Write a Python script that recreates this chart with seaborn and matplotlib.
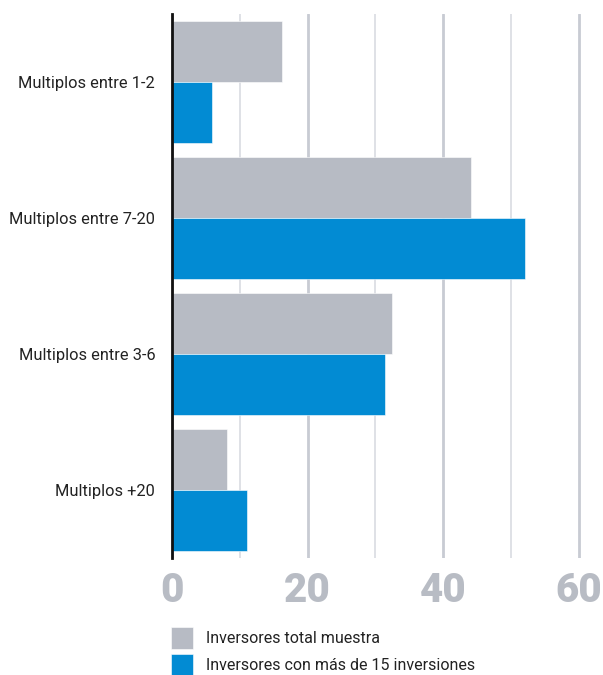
import matplotlib
matplotlib.use("Agg")
import matplotlib.pyplot as plt
from matplotlib.ticker import MultipleLocator
import seaborn as sns
import pandas as pd

categories = ["Multiplos entre 1-2", "Multiplos entre 7-20", "Multiplos entre 3-6", "Multiplos +20"]
series_names = ["Inversores total muestra", "Inversores con más de 15 inversiones"]
total_muestra = [16.2, 44.1, 32.5, 8.1]
mas_de_15 = [5.9, 52.1, 31.4, 11.1]
x_ticks = [0, 20, 40, 60]

colors = ["#b7bbc4", "#028bd3"]

df = pd.DataFrame({
    "categoria": categories * 2,
    "valor": total_muestra + mas_de_15,
    "serie": [series_names[0]] * len(categories) + [series_names[1]] * len(categories),
})

sns.set_style("white")
plt.rcParams["font.family"] = ["Roboto", "DejaVu Sans"]

fig = plt.figure(figsize=(6.03, 6.75), dpi=100)
ax = fig.add_axes([0.2849, 0.1733, 0.6808, 0.806])

sns.barplot(data=df, y="categoria", x="valor", hue="serie", order=categories,
            hue_order=series_names, palette=colors, orient="h", width=0.89,
            saturation=1, ax=ax, zorder=3, edgecolor="white", linewidth=0.4)

ax.set_xlim(0, 60.5)
ax.set_ylim(3.5, -0.5)
ax.xaxis.set_minor_locator(MultipleLocator(10))
ax.set_xticks(x_ticks)
ax.set_xticklabels([str(t) for t in x_ticks])
ax.grid(axis="x", which="major", color="#c8cbd3", linewidth=2.0, zorder=0)
ax.grid(axis="x", which="minor", color="#dcdee4", linewidth=1.3, zorder=0)
ax.grid(axis="y", visible=False)
ax.set_axisbelow(True)

for side in ["top", "right", "bottom"]:
    ax.spines[side].set_visible(False)
ax.spines["left"].set_color("#111111")
ax.spines["left"].set_linewidth(2.0)
ax.spines["left"].set_zorder(5)

ax.tick_params(axis="x", which="both", length=0, pad=9)
ax.tick_params(axis="y", length=0, pad=12)
for lbl in ax.get_xticklabels():
    lbl.set_fontfamily(["Roboto", "DejaVu Sans"])
    lbl.set_fontweight("black")
    lbl.set_fontsize(29)
    lbl.set_color("#b8bcc4")
for lbl in ax.get_yticklabels():
    lbl.set_fontsize(11.8)
    lbl.set_color("#222222")

ax.set_xlabel("")
ax.set_ylabel("")

handles, labels = ax.get_legend_handles_labels()
ax.legend_.remove()
fig.legend(handles, labels, loc="upper left", bbox_to_anchor=(171 / 603, 1 - 627 / 675),
           frameon=False, fontsize=11.5, handlelength=1.4, handleheight=1.75,
           handletextpad=0.8, labelspacing=0.3, borderpad=0, borderaxespad=0,
           labelcolor="#222222")

fig.savefig("out.png", dpi=100)
